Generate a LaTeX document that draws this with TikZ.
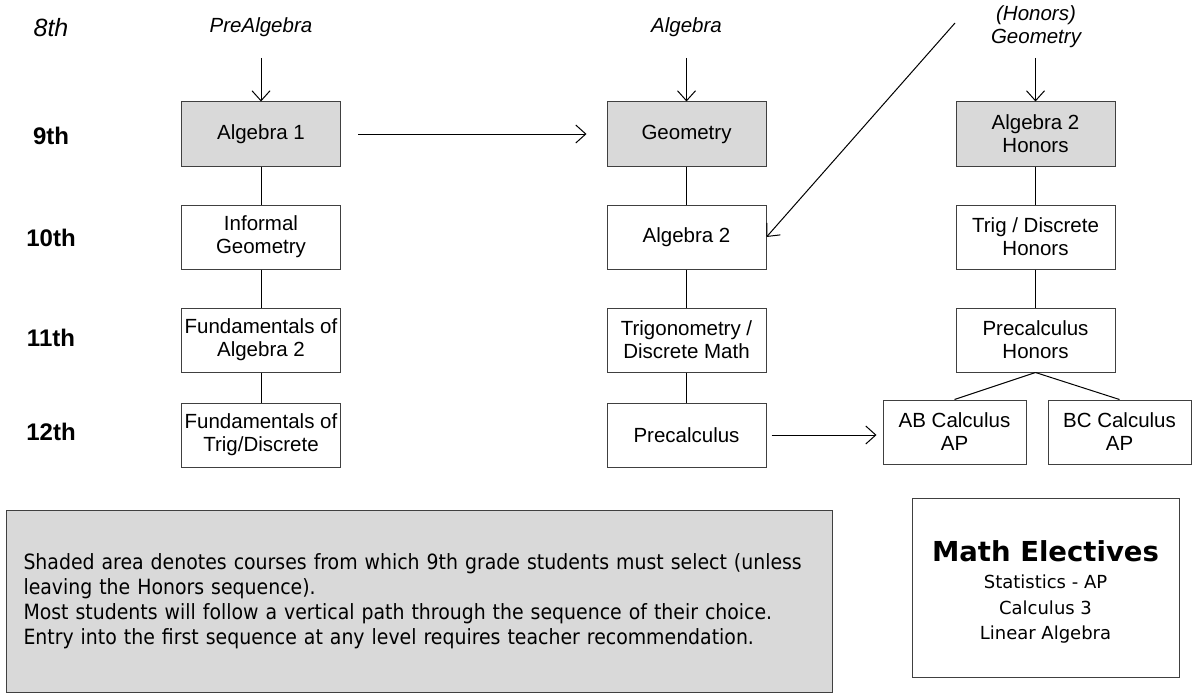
\documentclass[tikz,border=0pt]{standalone}
\usepackage{fontspec}
\setmainfont{Liberation Sans}
\newfontfamily\notefont{DejaVu Sans Condensed}
\newfontfamily\electfont{DejaVu Sans}
\usetikzlibrary{arrows.meta, positioning}
\definecolor{shade}{RGB}{217,217,217}
\definecolor{rim}{RGB}{64,64,64}

\begin{document}
\begin{tikzpicture}[x=1pt, y=-1pt, >={Straight Barb[length=10pt,width=18pt]}, line width=1pt,
    course/.style={draw=rim, minimum width=159pt, minimum height=64pt, inner sep=0pt, align=center, font=\fontsize{20.5}{23}\selectfont},
    shaded/.style={course, fill=shade},
    grade/.style={font=\fontsize{24}{26}\selectfont\bfseries},
    entry/.style={font=\fontsize{20.5}{23}\selectfont\itshape, align=center}]
            \useasboundingbox (0,0) rectangle (1193,698);
            % grades
            \node[font=\fontsize{25}{26}\selectfont\itshape] (g8) at (51,28) {8th};
            \node[grade] (g9) at (51,136) {9th};
            \node[grade] (g10) at (51,238) {10th};
            \node[grade] (g11) at (51,338) {11th};
            \node[grade] (g12) at (51,432) {12th};
            % entry courses
            \node[entry] (pa) at (261,27) {PreAlgebra};
            \node[entry] (al) at (686.5,27) {Algebra};
            \node[entry] (hg) at (1036,26.5) {(Honors)\\Geometry};
            \coordinate (pa-in) at (261,58);
            \coordinate (al-in) at (686.5,58);
            \coordinate (hg-in) at (1035.5,58);
            \coordinate (hg-x) at (955,23);
            % first column
            \node[shaded] (a1) at (261,134) {Algebra 1};
            \node[course, below=38pt of a1] (ig) {Informal\\Geometry};
            \node[course, below=38pt of ig] (fa) {Fundamentals of\\Algebra 2};
            \node[course, below=30pt of fa] (ft) {Fundamentals of\\Trig/Discrete};
            % second column
            \node[shaded] (geo) at (686.5,134) {Geometry};
            \node[course, below=38pt of geo] (a2) {Algebra 2};
            \node[course, below=38pt of a2] (tdm) {Trigonometry /\\Discrete Math};
            \node[course, below=30pt of tdm] (pc) {Precalculus};
            % third column
            \node[shaded] (a2h) at (1035.5,134) {Algebra 2\\Honors};
            \node[course, below=38pt of a2h] (tdh) {Trig / Discrete\\Honors};
            \node[course, below=38pt of tdh] (pch) {Precalculus\\Honors};
            \node[course, minimum width=143pt] (ab) at (954.5,432) {AB Calculus\\AP};
            \node[course, minimum width=143pt] (bc) at (1119.5,432) {BC Calculus\\AP};
            % notes
            \node[draw=rim, fill=shade, anchor=north west, text width=792pt, inner xsep=17pt, inner ysep=0pt,
                minimum height=182pt, align=left, font=\notefont\fontsize{21}{25}\selectfont] (note) at (6,510)
                {Shaded area denotes courses from which 9th grade students must select (unless\\
                leaving the Honors sequence).\\
                Most students will follow a vertical path through the sequence of their choice.\\
                Entry into the first sequence at any level requires teacher recommendation.};
            \node[draw=rim, minimum width=267pt, minimum height=179pt, align=center,
                font=\electfont\fontsize{18}{26}\selectfont] (elec) at (1045.5,587.5)
                {{\fontsize{27.5}{28}\selectfont\bfseries\rule{0pt}{30pt}Math Electives}\\[1pt]Statistics - AP\\Calculus 3\\[-1pt]Linear Algebra};
            % connectors
            \draw[->] (pa-in) -- (a1);
            \draw[->] (al-in) -- (geo);
            \draw[->] (hg-in) -- (a2h);
            \draw[->] (hg-x) -- (a2.east);
            \draw[->, shorten <=17pt, shorten >=20pt] (a1) -- (geo);
            \draw[->, shorten <=5pt, shorten >=6pt] (pc.east) -- (pc.east -| ab.west);
            \draw (a1) -- (ig);
            \draw (ig) -- (fa);
            \draw (fa) -- (ft);
            \draw (geo) -- (a2);
            \draw (a2) -- (tdm);
            \draw (tdm) -- (pc);
            \draw (a2h) -- (tdh);
            \draw (tdh) -- (pch);
            \draw (pch.south) -- (ab.north);
            \draw (pch.south) -- (bc.north);
        \end{tikzpicture}
\end{document}
